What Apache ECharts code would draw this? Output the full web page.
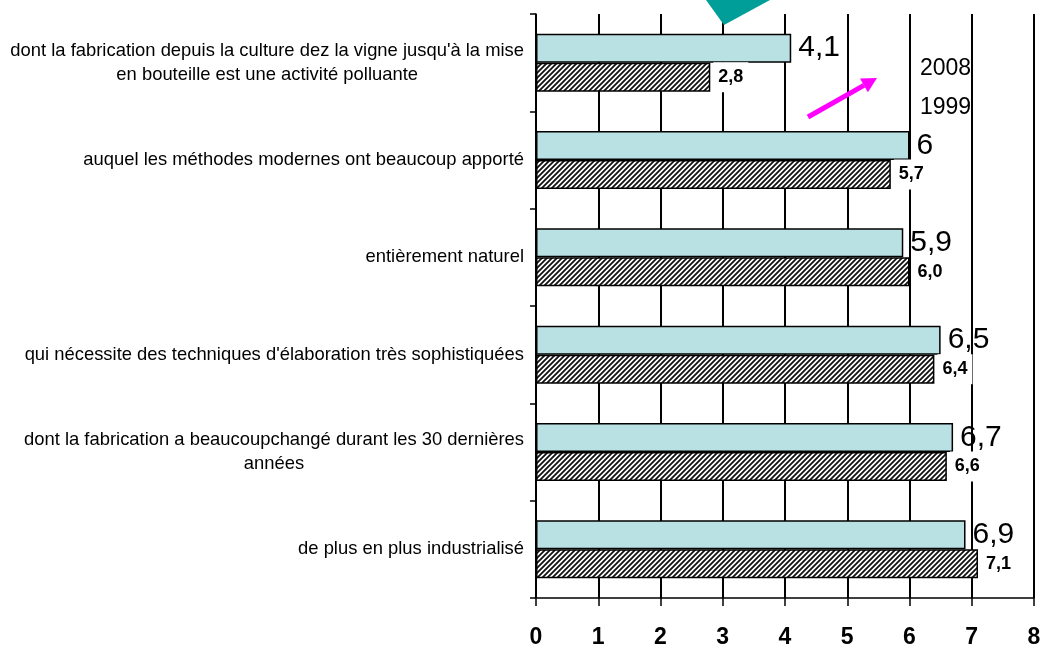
<!DOCTYPE html>
<html>
<head>
<meta charset="utf-8">
<script src="https://cdn.jsdelivr.net/npm/echarts@6/dist/echarts.min.js"></script>
<style>
html,body{margin:0;padding:0;background:#fff;}
#main{width:1044px;height:648px;}
</style>
</head>
<body>
<div id="main"></div>
<script>
const categories = [
  "dont la fabrication depuis la culture dez la vigne jusqu'à la mise\nen bouteille est une activité polluante",
  "auquel les méthodes modernes ont beaucoup apporté",
  "entièrement naturel",
  "qui nécessite des techniques d'élaboration très sophistiquées",
  "dont la fabrication a beaucoupchangé durant les 30 dernières\nannées",
  "de plus en plus industrialisé"
];
const values2008 = [4.1, 6, 5.9, 6.5, 6.7, 6.9];
const values1999 = [2.8, 5.7, 6.0, 6.4, 6.6, 7.1];
const seriesNames = ['2008', '1999'];
const xMin = 0, xMax = 8, xStep = 1;

const FONT = "'Liberation Sans', Arial, sans-serif";

// hatch pattern for 1999 bars
const tile = document.createElement('canvas');
tile.width = 5; tile.height = 5;
const tc = tile.getContext('2d');
tc.fillStyle = '#fff';
tc.fillRect(0, 0, 5, 5);
tc.strokeStyle = '#111';
tc.lineWidth = 1.8;
tc.beginPath();
tc.moveTo(-1, 6); tc.lineTo(6, -1);
tc.moveTo(-3, 3); tc.lineTo(3, -3);
tc.moveTo(2, 8); tc.lineTo(8, 2);
tc.stroke();

const chart = echarts.init(document.getElementById('main'), null, {renderer: 'canvas'});

const fmt1 = v => String(v).replace('.', ',');
const fmt2 = v => v.toFixed(1).replace('.', ',');

// arrow geometry (decoration)
const aStart = [808, 117], aTip = [877, 78];
const dx = aTip[0] - aStart[0], dy = aTip[1] - aStart[1];
const len = Math.sqrt(dx * dx + dy * dy);
const ux = dx / len, uy = dy / len;
const hl = 15, hw = 8;
const bc = [aTip[0] - hl * ux, aTip[1] - hl * uy];

chart.setOption({
  animation: false,
  backgroundColor: '#fff',
  textStyle: {fontFamily: FONT},
  grid: {left: 536, right: 10, top: 14, bottom: 50, containLabel: false, outerBoundsMode: 'none'},
  legend: {
    data: seriesNames,
    orient: 'vertical',
    left: 914,
    top: 57,
    padding: 0,
    itemWidth: 0,
    itemHeight: 0,
    itemGap: 16,
    selectedMode: false,
    itemStyle: {opacity: 0},
    textStyle: {fontSize: 23, color: '#000', fontFamily: FONT}
  },
  xAxis: {
    type: 'value',
    min: xMin, max: xMax, interval: xStep,
    axisLine: {show: true, lineStyle: {color: '#000', width: 1.5}},
    axisTick: {show: true, length: 8, lineStyle: {color: '#000', width: 1.5}},
    splitLine: {show: true, lineStyle: {color: '#000', width: 2}},
    axisLabel: {fontSize: 23, fontWeight: 'bold', color: '#000', margin: 28, fontFamily: FONT}
  },
  yAxis: {
    type: 'category',
    inverse: true,
    data: categories,
    axisLine: {show: true, lineStyle: {color: '#000', width: 1.5}},
    axisTick: {show: true, length: 6, lineStyle: {color: '#000', width: 1.5}},
    axisLabel: {
      fontSize: 18.4, color: '#000', margin: 12, lineHeight: 24, fontFamily: FONT,
      formatter: function (v) {
        if (v.indexOf('\n') >= 0) {
          return v.split('\n').map(s => '{c|' + s + '}').join('\n');
        }
        return v;
      },
      rich: {c: {align: 'center', fontSize: 18.4, lineHeight: 24, color: '#000', fontFamily: FONT}}
    }
  },
  series: [
    {
      name: seriesNames[0],
      type: 'bar',
      data: values2008,
      barWidth: 29,
      barGap: '0%',
      itemStyle: {color: '#b9e0e3', borderColor: '#000', borderWidth: 1.5},
      label: {
        show: true, position: 'right', distance: 7,
        fontSize: 30, color: '#000', fontFamily: FONT,
        formatter: p => fmt1(p.value)
      }
    },
    {
      name: seriesNames[1],
      type: 'bar',
      data: values1999,
      barWidth: 29,
      itemStyle: {color: {image: tile, repeat: 'repeat'}, borderColor: '#000', borderWidth: 1.5},
      label: {
        show: true, position: 'right', distance: 3,
        fontSize: 18, fontWeight: 'bold', color: '#000', fontFamily: FONT,
        backgroundColor: '#fff', padding: [6, 5, 6, 5],
        formatter: p => fmt2(p.value)
      }
    }
  ],
  graphic: [
    {
      type: 'polygon',
      shape: {points: [[706, 0], [770, 0], [724, 25]]},
      style: {fill: '#009e99'},
      z: 100
    },
    {
      type: 'line',
      shape: {x1: aStart[0], y1: aStart[1], x2: bc[0], y2: bc[1]},
      style: {stroke: '#ff00ff', lineWidth: 5},
      z: 100
    },
    {
      type: 'polygon',
      shape: {points: [aTip, [bc[0] + hw * uy, bc[1] - hw * ux], [bc[0] - hw * uy, bc[1] + hw * ux]]},
      style: {fill: '#ff00ff'},
      z: 100
    }
  ]
});
</script>
</body>
</html>
